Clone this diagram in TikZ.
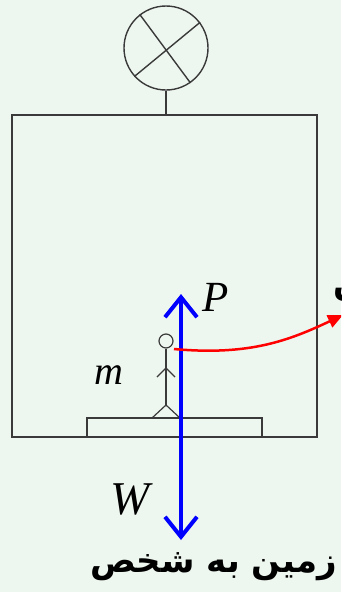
\documentclass[tikz,border=0pt]{standalone}
\usepackage{fontspec}
\setmainfont{Liberation Serif}
\newfontfamily\arabicfont[Script=Arabic]{DejaVu Sans}
\TeXXeTstate=1
\usetikzlibrary{arrows.meta}
\definecolor{bgmint}{HTML}{EEF7EF}
\definecolor{inkgray}{HTML}{3A3A3A}
\tikzset{
  ink/.style={draw=inkgray, line width=1.4pt},
  force/.style={draw=blue, line width=4pt, {Straight Barb[length=20pt,width=32pt,line width=4pt]}-{Straight Barb[length=20pt,width=32pt,line width=4pt]}},
  pull/.style={draw=red, line width=2.5pt, -{Triangle[length=15pt,width=13pt]}},
  sym/.style={inner sep=0pt, font=\itshape},
  fa/.style={inner sep=0pt, font=\arabicfont\bfseries\fontsize{34}{34}\selectfont}
}
\begin{document}
\begin{tikzpicture}[x=1pt, y=-1pt]
  \clip (0,0) rectangle (341,592);
  \fill[bgmint] (0,0) rectangle (341,592);

  % gauge on top of the cabin
  \node[ink, circle, minimum size=84pt, inner sep=0pt] (gauge) at (166,48) {};
  \draw[ink] (gauge.128) -- (gauge.-55);
  \draw[ink] (gauge.37) -- (gauge.222);

  % cabin and floor plate
  \node[ink, rectangle, minimum width=305pt, minimum height=322pt, inner sep=0pt] (cabin) at (164.5,276) {};
  \draw[ink] (gauge.south) -- (gauge.south |- cabin.north);
  \node[ink, rectangle, minimum width=175pt, minimum height=19pt, inner sep=0pt] (plate) at (174.5,427.5) {};

  % stick figure
  \node[ink, circle, minimum size=14pt, inner sep=0pt, line width=1.2pt] (head) at (166,341) {};
  \coordinate (shoulder) at (166,368);
  \coordinate (hip) at (166,405);
  \coordinate (handL) at (157,377);
  \coordinate (handR) at (175,377);
  \coordinate (footL) at (152,418);
  \coordinate (footR) at (180,418);
  \draw[ink, line width=1.2pt] (head.south) -- (hip);
  \draw[ink, line width=1.2pt] (handL) -- (shoulder) -- (handR);
  \draw[ink, line width=1.2pt] (footL) -- (hip) -- (footR);

  % forces
  \coordinate (ptip) at (181,294);
  \coordinate (wtip) at (181,540);
  \draw[force] (wtip) -- (ptip);
  \coordinate (pstart) at (174,349);
  \coordinate (pend) at (343,315);
  \draw[pull] (pstart) .. controls (250,356) and (290,340) .. (pend);

  % labels
  \node[sym, font=\itshape\fontsize{43}{43}\selectfont] (P) at (216,297.5) {P};
  \node[sym, font=\itshape\fontsize{40}{40}\selectfont] (m) at (108.5,375) {m};
  \node[sym, font=\itshape\fontsize{47}{47}\selectfont] (W) at (130,499) {W};
  \node[fa, anchor=east] (wlabel) at (337,567) {\beginR زمین به شخص\endR};
  \node[fa, anchor=west] (plabel) at (333,288) {\beginR شخص به زمین\endR};
\end{tikzpicture}
\end{document}
